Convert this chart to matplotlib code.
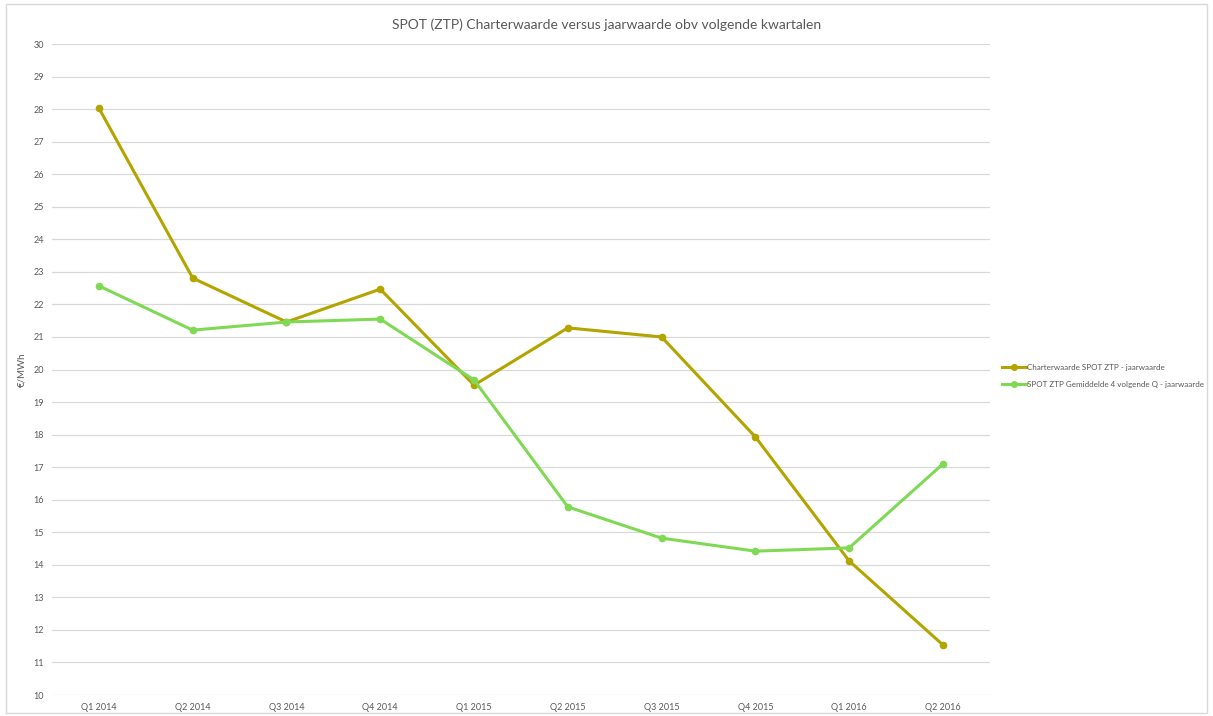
import matplotlib.pyplot as plt
from matplotlib.patches import Rectangle
import numpy as np

plt.rcParams['font.family'] = ['Lato', 'DejaVu Sans']

quarters = ['Q1 2014', 'Q2 2014', 'Q3 2014', 'Q4 2014', 'Q1 2015',
            'Q2 2015', 'Q3 2015', 'Q4 2015', 'Q1 2016', 'Q2 2016']
charter = [28.03, 22.81, 21.46, 22.47, 19.52, 21.28, 21.0, 17.93, 14.12, 11.54]
gemiddeld = [22.57, 21.21, 21.46, 21.55, 19.68, 15.78, 14.82, 14.42, 14.52, 17.10]

olive = '#b3a400'
green = '#80d955'
textgray = '#595959'

fig = plt.figure(figsize=(12.13, 7.16), dpi=100)
ax = fig.add_axes([0.0429, 0.0293, 0.7731, 0.9092])

x = np.arange(len(quarters))
ax.plot(x, charter, color=olive, lw=2.2, marker='o', ms=4.5,
        label='Charterwaarde SPOT ZTP - jaarwaarde')
ax.plot(x, gemiddeld, color=green, lw=2.2, marker='o', ms=4.5,
        label='SPOT ZTP Gemiddelde 4 volgende Q - jaarwaarde')

ax.set_xlim(-0.5, len(quarters) - 0.5)
ax.set_ylim(10, 30)
ax.set_yticks(range(10, 31))
ax.set_xticks(x)
ax.set_xticklabels(quarters)
ax.tick_params(length=0, labelsize=6.5, labelcolor=textgray, pad=6)
ax.grid(axis='y', color='#d9d9d9', lw=0.9)
ax.set_axisbelow(True)
for s in ax.spines.values():
    s.set_visible(False)

ax.set_ylabel('€/MWh', fontsize=7, color=textgray)
ax.yaxis.set_label_coords(-0.027, 0.5)
fig.text(0.5, 0.965, 'SPOT (ZTP) Charterwaarde versus jaarwaarde obv volgende kwartalen',
         ha='center', va='center', fontsize=10, color=textgray)

fig.legend(loc='center left', bbox_to_anchor=(0.826, 0.475), frameon=False,
           fontsize=5.8, labelcolor=textgray, handlelength=3.0, handletextpad=0.05,
           labelspacing=1.2, markerscale=0.9, borderpad=0, borderaxespad=0)

fig.patches.append(Rectangle((0.005, 0.004), 0.99, 0.99, transform=fig.transFigure,
                             fill=False, edgecolor='#d9d9d9', lw=1))

fig.savefig('out.png', dpi=100)
